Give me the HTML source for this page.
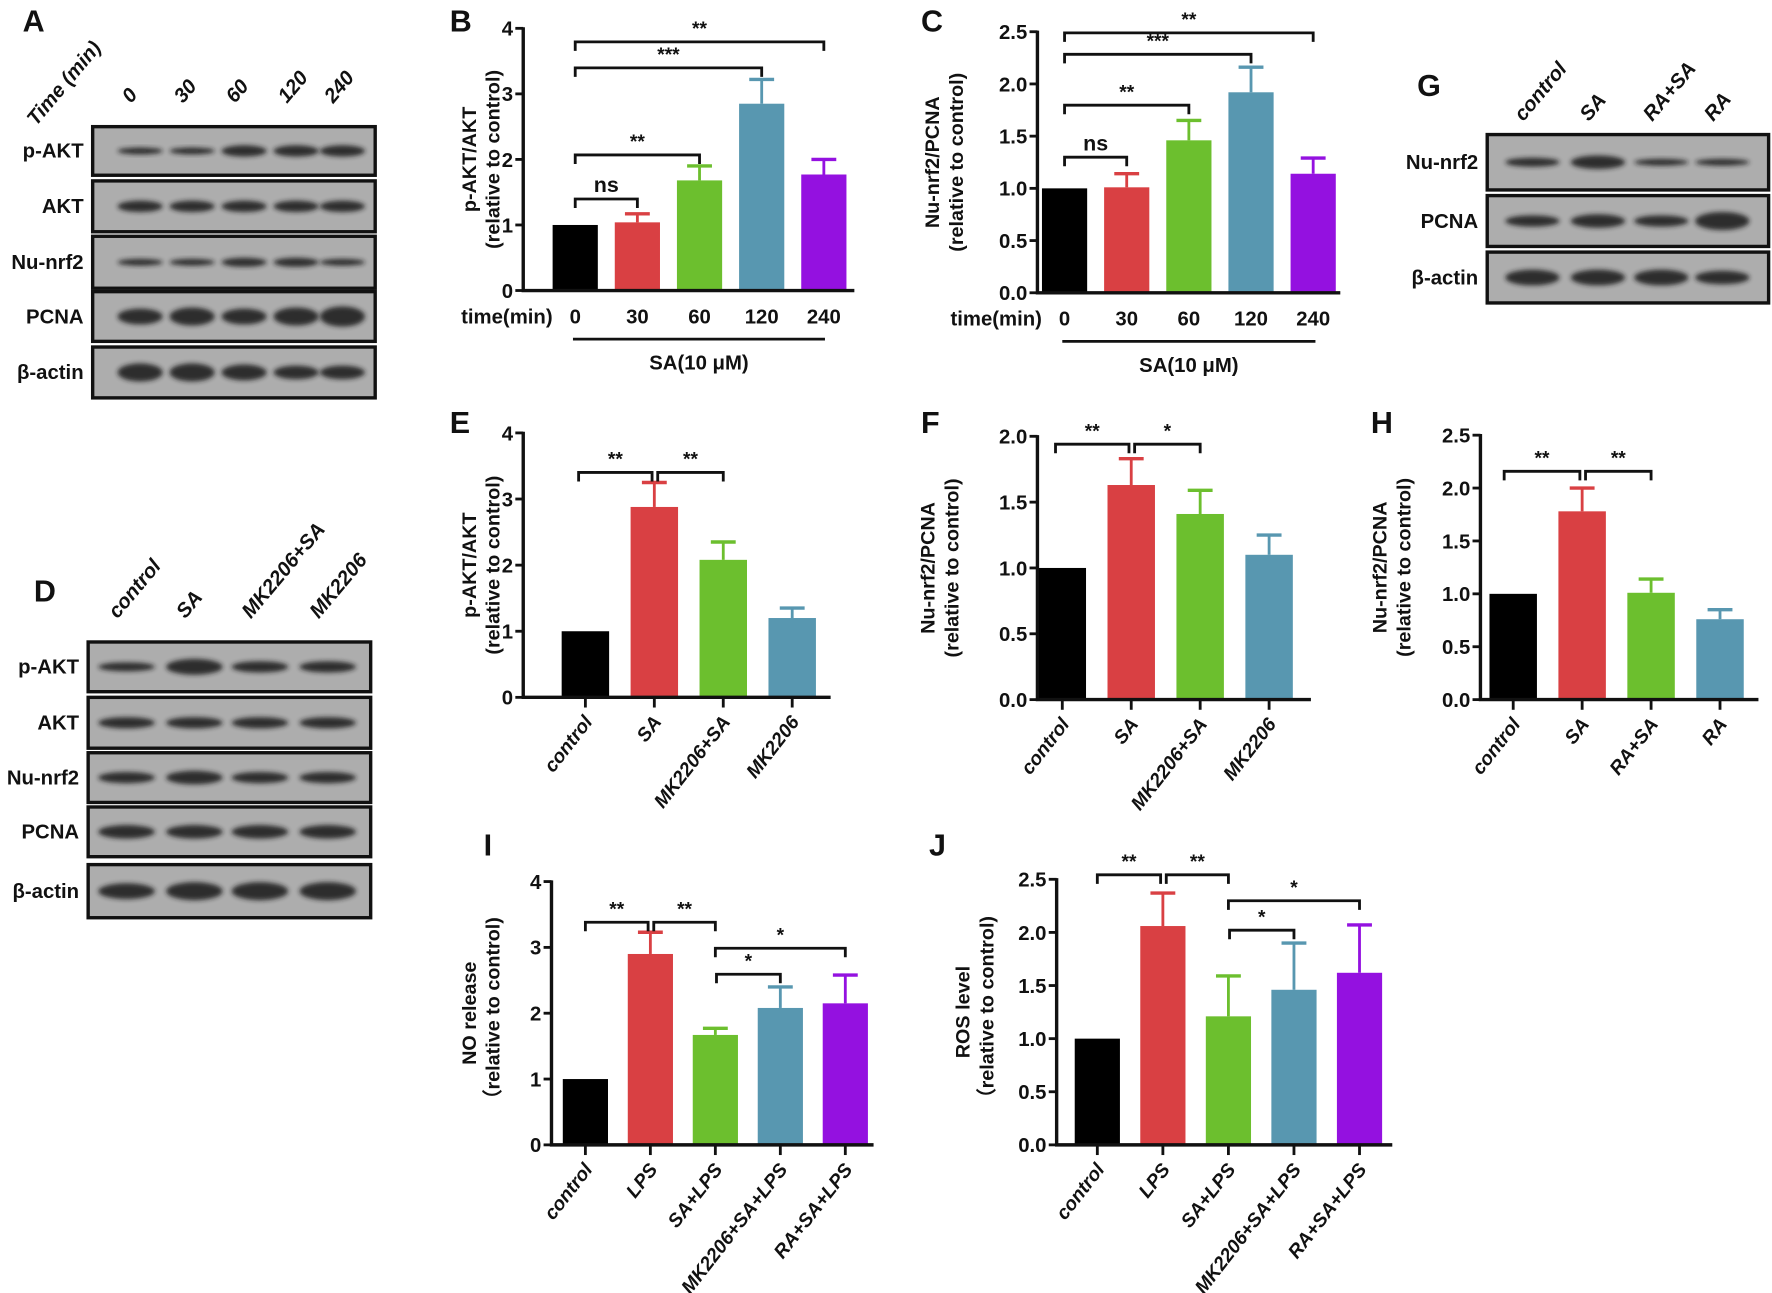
<!DOCTYPE html>
<html><head><meta charset="utf-8"><style>
html,body{margin:0;padding:0;background:#fff;width:1772px;height:1293px;overflow:hidden}
svg{display:block}
text{font-family:"Liberation Sans Narrow","Liberation Sans",sans-serif;font-weight:bold;fill:#111}
.pl{font-family:"Liberation Sans",sans-serif;font-size:27px}
.yt{font-family:"Liberation Sans",sans-serif;font-size:17.5px}
</style></head><body>
<svg id="fig" width="1772" height="1293" viewBox="0 0 1568 1144" xmlns="http://www.w3.org/2000/svg">
<defs><filter id="bl" x="-20%" y="-50%" width="140%" height="200%"><feGaussianBlur stdDeviation="2.2"/></filter></defs>
</svg>
<script>
// ---- chart data ----
const bCats=["0","30","60","120","240"];
const bVals=[1.0,1.04,1.68,2.85,1.77];
const bErr=[1.0,1.17,1.90,3.22,2.00];
const bTicks=["0","1","2","3","4"];
const cCats=["0","30","60","120","240"];
const cVals=[1.0,1.01,1.46,1.92,1.14];
const cErr=[1.0,1.14,1.65,2.16,1.29];
const cTicks=["0.0","0.5","1.0","1.5","2.0","2.5"];
const eCats=["control","SA","MK2206+SA","MK2206"];
const eVals=[1.0,2.88,2.08,1.2];
const eErr=[1.0,3.25,2.35,1.35];
const eTicks=["0","1","2","3","4"];
const fCats=["control","SA","MK2206+SA","MK2206"];
const fVals=[1.0,1.63,1.41,1.10];
const fErr=[1.0,1.83,1.59,1.25];
const fTicks=["0.0","0.5","1.0","1.5","2.0"];
const hCats=["control","SA","RA+SA","RA"];
const hVals=[1.0,1.78,1.01,0.76];
const hErr=[1.0,2.0,1.14,0.85];
const hTicks=["0.0","0.5","1.0","1.5","2.0","2.5"];
const iCats=["control","LPS","SA+LPS","MK2206+SA+LPS","RA+SA+LPS"];
const iVals=[1.0,2.90,1.67,2.08,2.15];
const iErr=[1.0,3.23,1.77,2.40,2.58];
const iTicks=["0","1","2","3","4"];
const jCats=["control","LPS","SA+LPS","MK2206+SA+LPS","RA+SA+LPS"];
const jVals=[1.0,2.06,1.21,1.46,1.62];
const jErr=[1.0,2.37,1.59,1.90,2.07];
const jTicks=["0.0","0.5","1.0","1.5","2.0","2.5"];
const COLORS=["#000000","#d94043","#6cbf2e","#5897b0","#9411e0"];

const svg=document.getElementById('fig');
const NS="http://www.w3.org/2000/svg";
function el(tag,attrs,parent){const e=document.createElementNS(NS,tag);for(const k in attrs)e.setAttribute(k,attrs[k]);(parent||svg).appendChild(e);return e;}
function txt(s,attrs,parent){const e=el('text',attrs,parent);e.textContent=s;return e;}

function chart(o){
  const g=el('g',{});
  
  
  const max=parseFloat(o.ticks[o.ticks.length-1]);
  const y=v=>o.y0-(v/max)*(o.y0-o.yTop);
  const x=i=>o.x1+i*o.step;
  o.vals.forEach((v,i)=>{
    const b=el('rect',{x:x(i)-o.bw/2,y:y(v),width:o.bw,height:o.y0-y(v),fill:COLORS[i]},g);
    
    
    if(o.err[i]>v){
      el('line',{x1:x(i),x2:x(i),y1:y(v),y2:y(o.err[i]),stroke:COLORS[i],'stroke-width':2.5},g);
      el('line',{x1:x(i)-11,x2:x(i)+11,y1:y(o.err[i]),y2:y(o.err[i]),stroke:COLORS[i],'stroke-width':3},g);
    }
  });
  const ax=el('path',{d:`M${o.ax} ${o.yTop-1}V${o.y0}H${o.xEnd}`,stroke:'#111','stroke-width':3,fill:'none'},g);
  
  
  o.ticks.forEach((t,k)=>{
    const v=parseFloat(t);
    el('line',{x1:o.ax-7,x2:o.ax,y1:y(v),y2:y(v),stroke:'#111','stroke-width':2.5},g);
    const tl=txt(t,{x:o.ax-9,y:y(v)+6.5,'text-anchor':'end','font-size':18},g);
    
    
  });
  o.cats.forEach((c,i)=>{
    if(o.rot){
      el('line',{x1:x(i),x2:x(i),y1:o.y0,y2:o.y0+9,stroke:'#111','stroke-width':2.5},g);
      const t=txt(c,{x:0,y:0,'text-anchor':'end','font-size':17,'font-style':'italic',transform:`translate(${x(i)+7},${o.y0+22}) rotate(-52)`},g);
      
      
    }else{
      const t=txt(c,{x:x(i),y:o.y0+29,'text-anchor':'middle','font-size':18},g);
      
      
    }
  });
  (o.br||[]).forEach(b=>{
    const x1=x(b[0])+(b[3]||0),x2=x(b[1])+(b[4]||0),yy=b[2];
    el('path',{d:`M${x1} ${yy+8}V${yy}H${x2}V${yy+8}`,stroke:'#111','stroke-width':2.5,fill:'none'},g);
    const s=txt(b[5],{x:(x1+x2)/2,y:yy-6,'text-anchor':'middle','font-size':b[5]=='ns'?19:17,'font-weight':b[5]=='ns'?'normal':'bold'},g);
    
    
  });
  const tg=el('g',{transform:`translate(${o.tx},${(o.y0+o.yTop)/2}) rotate(-90)`},g);
  const t1=txt(o.t1,{x:0,y:0,'text-anchor':'middle',class:'yt'},tg);
  
  
  const t2=txt(o.t2,{x:0,y:21,'text-anchor':'middle',class:'yt'},tg);
  
  
  return g;
}

chart({name:'chart-b',cats:bCats,vals:bVals,err:bErr,ticks:bTicks,ax:463,y0:257,yTop:25,x1:509,step:55,bw:40,xEnd:756,tx:421,t1:'p-AKT/AKT',t2:'(relative to control)',
  br:[[0,1,176,0,0,'ns'],[0,2,137,0,0,'**'],[0,3,60,0,0,'***'],[0,4,37,0,0,'**']]});
chart({name:'chart-c',cats:cCats,vals:cVals,err:cErr,ticks:cTicks,ax:918,y0:259,yTop:28,x1:942,step:55,bw:40,xEnd:1186,tx:831,t1:'Nu-nrf2/PCNA',t2:'(relative to control)',
  br:[[0,1,139,0,0,'ns'],[0,2,93,0,0,'**'],[0,3,48,0,0,'***'],[0,4,29,0,0,'**']]});
chart({name:'chart-e',cats:eCats,vals:eVals,err:eErr,ticks:eTicks,ax:463,y0:617,yTop:383,x1:518,step:61,bw:42,xEnd:735,tx:421,t1:'p-AKT/AKT',t2:'(relative to control)',rot:true,
  br:[[0,1,418,-6,-2,'**'],[1,2,418,3,0,'**']]});
chart({name:'chart-f',cats:fCats,vals:fVals,err:fErr,ticks:fTicks,ax:918,y0:619,yTop:386,x1:940,step:61,bw:42,xEnd:1160,tx:827,t1:'Nu-nrf2/PCNA',t2:'(relative to control)',rot:true,
  br:[[0,1,393,-6,-2,'**'],[1,2,393,3,0,'*']]});
chart({name:'chart-h',cats:hCats,vals:hVals,err:hErr,ticks:hTicks,ax:1310,y0:619,yTop:385,x1:1339,step:61,bw:42,xEnd:1556,tx:1227,t1:'Nu-nrf2/PCNA',t2:'(relative to control)',rot:true,
  br:[[0,1,417,-8,-2,'**'],[1,2,417,3,0,'**']]});
chart({name:'chart-i',cats:iCats,vals:iVals,err:iErr,ticks:iTicks,ax:488,y0:1013,yTop:780,x1:518,step:57.5,bw:40,xEnd:773,tx:421,t1:'NO release',t2:'（relative to control)',rot:true,
  br:[[0,1,816,0,-2,'**'],[1,2,816,3,0,'**'],[2,3,862,1,0,'*'],[2,4,839,0,0,'*']]});
chart({name:'chart-j',cats:jCats,vals:jVals,err:jErr,ticks:jTicks,ax:935,y0:1013,yTop:778,x1:971,step:58,bw:40,xEnd:1232,tx:858,t1:'ROS level',t2:'（relative to control)',rot:true,
  br:[[0,1,774,0,-2,'**'],[1,2,774,3,0,'**'],[2,3,823,1,0,'*'],[2,4,797,0,0,'*']]});

[[463,509,728,'chart-b-axis-caption'],[918,942,1162,'chart-c-axis-caption']].forEach(a=>{
  const g=el('g',{});
  
  
  const yy=a[0]==463?286:288;
  txt('time(min)',{x:a[1]-20,y:yy,'text-anchor':'end','font-size':18},g);
  el('line',{x1:a[1]-2,x2:a[2]+2,y1:yy+14,y2:yy+14,stroke:'#111','stroke-width':2.5},g);
  txt('SA(10 μM)',{x:(a[1]+a[2])/2,y:yy+41,'text-anchor':'middle','font-size':18},g);
});

[['A',20,28],['B',398,28],['C',815,28],['G',1254,85],['D',30,532],['E',398,383],['F',815,383],['H',1213,383],['I',428,757],['J',822,757]].forEach(p=>{
  const t=txt(p[0],{x:p[1],y:p[2],class:'pl'});
  
  
});

function blot(name,x,w,rows,lanes,cols,labels,headerY,header){
  const g=el('g',{});
  
  
  rows.forEach((r,ri)=>{
    el('rect',{x:x,y:r[1],width:w,height:r[2]-r[1],fill:'#adadad',stroke:'#111','stroke-width':3},g);
    const t=txt(r[0],{x:x-8,y:(r[1]+r[2])/2+6,'text-anchor':'end','font-size':18},g);
    
    
    lanes.forEach((lx,li)=>{
      const th=r[3][li];
      el('ellipse',{cx:lx,cy:(r[1]+r[2])/2,rx:cols,ry:th,fill:'#1c1c1c',opacity:0.88,filter:'url(#bl)'},g);
    });
  });
  labels.forEach((l,i)=>{
    const t=txt(l,{x:0,y:0,'font-size':18,'font-style':'italic',transform:`translate(${lanes[i]-8},${headerY}) rotate(-50)`},g);
    
    
  });
  if(header){const t=txt(header[0],{x:0,y:0,'font-size':18,'font-style':'italic',transform:`translate(${header[1]},${header[2]}) rotate(-50)`},g);
    }
}
blot('blot-a',82,250,[['p-AKT',112,155,[3,3,5,5,5]],['AKT',160,205,[5,5,5,5,5]],['Nu-nrf2',209,255,[3,3,4,4,3]],['PCNA',258,302,[7,8,7,8,9]],['β-actin',307,352,[8,8,7,6,6]]],
  [124,170,216,262,303],20,['0','30','60','120','240'],92,['Time (min)',32,112]);
blot('blot-d',78,250,[['p-AKT',568,612,[4,7,5,5]],['AKT',617,662,[5,5,5,5]],['Nu-nrf2',666,710,[5,6,5,5]],['PCNA',714,758,[6,6,6,6]],['β-actin',765,812,[7,8,8,8]]],
  [112,172,230,290],25,['control','SA','MK2206+SA','MK2206'],548);
blot('blot-g',1316,249,[['Nu-nrf2',119,168,[4,6,3,3]],['PCNA',173,218,[5,6,5,8]],['β-actin',223,268,[7,7,7,6]]],
  [1356,1414,1470,1524],24,['control','SA','RA+SA','RA'],108);
</script>
</body></html>
